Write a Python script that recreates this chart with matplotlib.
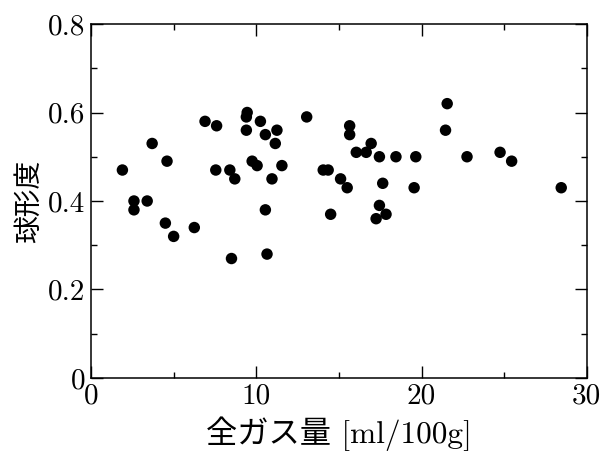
import matplotlib
matplotlib.use("Agg")
import matplotlib.pyplot as plt
from matplotlib.ticker import MultipleLocator

plt.rcParams["font.family"] = ["cmr10", "Noto Sans CJK JP", "DejaVu Sans"]
plt.rcParams["axes.formatter.use_mathtext"] = True
plt.rcParams["mathtext.fontset"] = "cm"

# 全ガス量 [ml/100g]
total_gas = [
    1.9, 2.6, 2.6, 3.4, 3.7, 4.6, 4.5, 5.0, 6.25, 6.9,
    7.6, 7.55, 8.4, 8.7, 8.5, 9.45, 9.4, 9.4, 9.75, 10.05,
    10.25, 10.55, 10.55, 10.65, 10.95, 11.15, 11.25, 11.55, 13.05, 14.05,
    14.35, 15.1, 15.5, 14.5, 15.65, 15.65, 16.05, 16.65, 16.95, 17.45,
    17.65, 17.45, 17.25, 17.85, 18.45, 19.65, 19.55, 21.55, 21.45, 22.75,
    24.75, 25.45, 28.45,
]
# 球形度
sphericity = [
    0.47, 0.40, 0.38, 0.40, 0.53, 0.49, 0.35, 0.32, 0.34, 0.58,
    0.57, 0.47, 0.47, 0.45, 0.27, 0.60, 0.59, 0.56, 0.49, 0.48,
    0.58, 0.55, 0.38, 0.28, 0.45, 0.53, 0.56, 0.48, 0.59, 0.47,
    0.47, 0.45, 0.43, 0.37, 0.57, 0.55, 0.51, 0.51, 0.53, 0.50,
    0.44, 0.39, 0.36, 0.37, 0.50, 0.50, 0.43, 0.62, 0.56, 0.50,
    0.51, 0.49, 0.43,
]

fig = plt.figure(figsize=(6.05, 4.59), dpi=100)
ax = fig.add_axes([0.1504, 0.1765, 0.8196, 0.7712])

ax.scatter(total_gas, sphericity, s=68, color="black", edgecolors="none", zorder=3)

ax.set_xlim(0, 30)
ax.set_ylim(0, 0.8)
ax.xaxis.set_minor_locator(MultipleLocator(5))
ax.yaxis.set_minor_locator(MultipleLocator(0.1))
ax.set_yticks([0, 0.2, 0.4, 0.6, 0.8])
ax.set_yticklabels(["0", "0.2", "0.4", "0.6", "0.8"])
ax.set_xticks([0, 10, 20, 30])
ax.set_xticklabels(["0", "10", "20", "30"])

ax.tick_params(which="both", direction="in", top=True, right=True, width=1.0,
               labelsize=21)
ax.tick_params(which="major", length=8.5, pad=4)
ax.tick_params(which="minor", length=4.5)
for sp in ax.spines.values():
    sp.set_linewidth(1.1)

ax.set_xlabel("全ガス量 [ml/100g]", fontsize=22.5, labelpad=5)
ax.set_ylabel("球形度", fontsize=20, labelpad=4)

fig.savefig("out.png", dpi=100)
